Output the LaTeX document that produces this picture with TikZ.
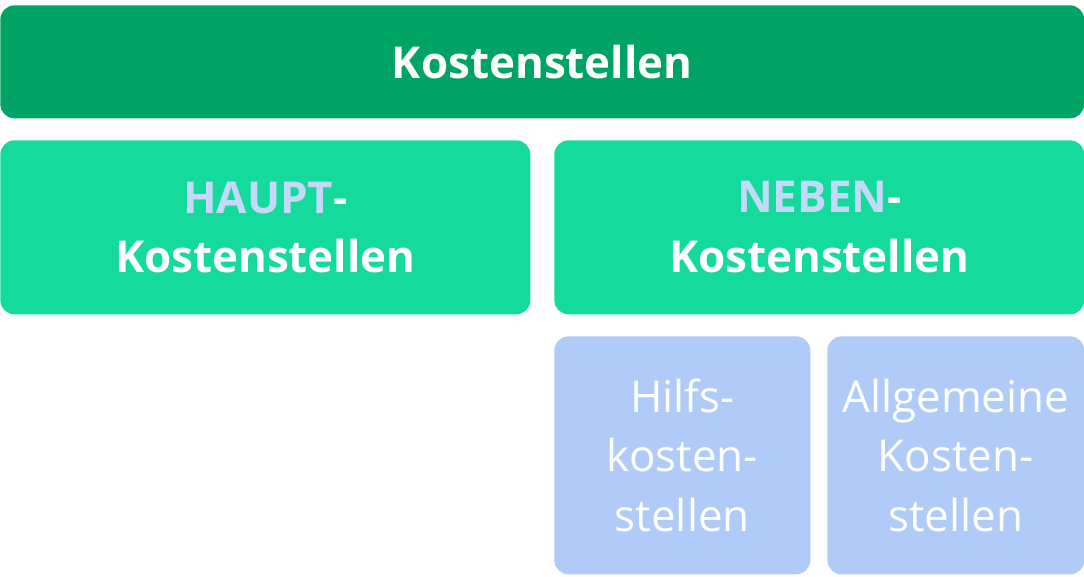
\documentclass[tikz,border=0pt]{standalone}
\usepackage{fontspec}
\setmainfont{Open Sans}
\definecolor{darkgreen}{HTML}{00A366}
\definecolor{lightgreen}{HTML}{14DB9B}
\definecolor{paleblue}{HTML}{B0CBF7}
\definecolor{headblue}{HTML}{C4D8F8}
\tikzset{
  box/.style={anchor=north west, rounded corners=8pt, inner sep=0pt, align=center, text=white},
  mainbox/.style={box, fill=darkgreen, font=\fontsize{25}{30}\selectfont\bfseries},
  groupbox/.style={box, fill=lightgreen, font=\fontsize{25}{34}\selectfont\bfseries},
  subbox/.style={box, fill=paleblue, font=\fontsize{25}{34}\selectfont},
}
\begin{document}
\begin{tikzpicture}[x=0.02cm, y=-0.02cm]
  \useasboundingbox (0,0) rectangle (1084,576);
  \node[mainbox, minimum width=21.68cm, minimum height=2.26cm] (top) at (0,5) {Kostenstellen};
  \node[groupbox, minimum width=10.6cm, minimum height=3.48cm] (haupt) at (0,140)
    {\textcolor{headblue}{HAUPT}-\\Kostenstellen};
  \node[groupbox, minimum width=10.6cm, minimum height=3.48cm] (neben) at (554,140)
    {\textcolor{headblue}{NEBEN}-\\Kostenstellen};
  \node[subbox, minimum width=5.12cm, minimum height=4.76cm] (hilfs) at (554,336)
    {Hilfs-\\kosten-\\stellen};
  \node[subbox, minimum width=5.14cm, minimum height=4.76cm] (allg) at (827,336)
    {Allgemeine\\Kosten-\\stellen};
\end{tikzpicture}
\end{document}
